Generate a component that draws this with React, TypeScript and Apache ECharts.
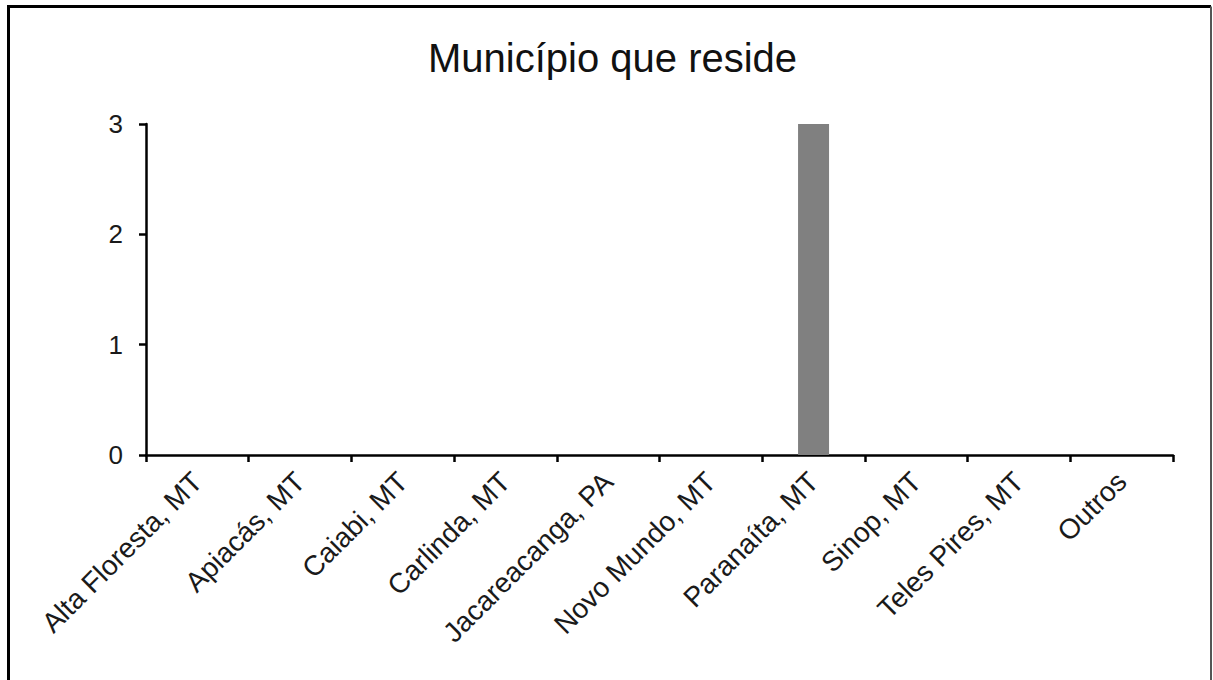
import React, { useEffect, useRef } from "react";
import * as echarts from "echarts";

// Respondents by municipality of residence
const categories: string[] = [
  "Alta Floresta, MT",
  "Apiacás, MT",
  "Caiabi, MT",
  "Carlinda, MT",
  "Jacareacanga, PA",
  "Novo Mundo, MT",
  "Paranaíta, MT",
  "Sinop, MT",
  "Teles Pires, MT",
  "Outros",
];
const counts: number[] = [0, 0, 0, 0, 0, 0, 3, 0, 0, 0];
const chartTitle = "Município que reside";

const FONT = "'Liberation Sans', Arial, Helvetica, sans-serif";

export default function App() {
  const ref = useRef<HTMLDivElement>(null);

  useEffect(() => {
    if (!ref.current) return;
    const chart = echarts.init(ref.current, null, { renderer: "svg" });
    chart.setOption({
      animation: false,
      backgroundColor: "#ffffff",
      title: {
        text: chartTitle,
        left: 423,
        top: 33,
        textStyle: {
          fontFamily: FONT,
          fontSize: 40,
          fontWeight: "normal",
          color: "#111111",
        },
      },
      grid: { left: 146, right: 40, top: 124, bottom: 225, containLabel: false },
      xAxis: {
        type: "category",
        data: categories,
        boundaryGap: true,
        axisLine: { show: true, lineStyle: { color: "#000000", width: 2.5 } },
        axisTick: {
          show: true,
          alignWithLabel: false,
          interval: 0,
          length: 7,
          lineStyle: { color: "#000000", width: 2.5 },
        },
        axisLabel: {
          interval: 0,
          rotate: 45,
          margin: 22,
          color: "#1a1a1a",
          fontFamily: FONT,
          fontSize: 28,
        },
        splitLine: { show: false },
      },
      yAxis: {
        type: "value",
        min: 0,
        max: 3,
        interval: 1,
        axisLine: { show: true, lineStyle: { color: "#000000", width: 2.5 } },
        axisTick: { show: true, length: 7, lineStyle: { color: "#000000", width: 2.5 } },
        axisLabel: {
          margin: 23,
          color: "#1a1a1a",
          fontFamily: FONT,
          fontSize: 26,
        },
        splitLine: { show: false },
      },
      series: [
        {
          type: "bar",
          data: counts,
          barWidth: 31,
          itemStyle: { color: "#808080" },
        },
      ],
      graphic: [
        {
          type: "polyline",
          silent: true,
          shape: { points: [[8.5, 690], [8.5, 6.5], [1211, 6.5]] },
          style: { stroke: "#000000", lineWidth: 3, fill: "none" },
        },
        {
          type: "line",
          silent: true,
          shape: { x1: 1211, y1: 6.5, x2: 1211, y2: 690 },
          style: { stroke: "#555555", lineWidth: 2 },
        },
      ],
    });
    return () => chart.dispose();
  }, []);

  return (
    <div
      ref={ref}
      style={{ position: "absolute", left: 0, top: 0, width: 1213, height: 680 }}
    />
  );
}
